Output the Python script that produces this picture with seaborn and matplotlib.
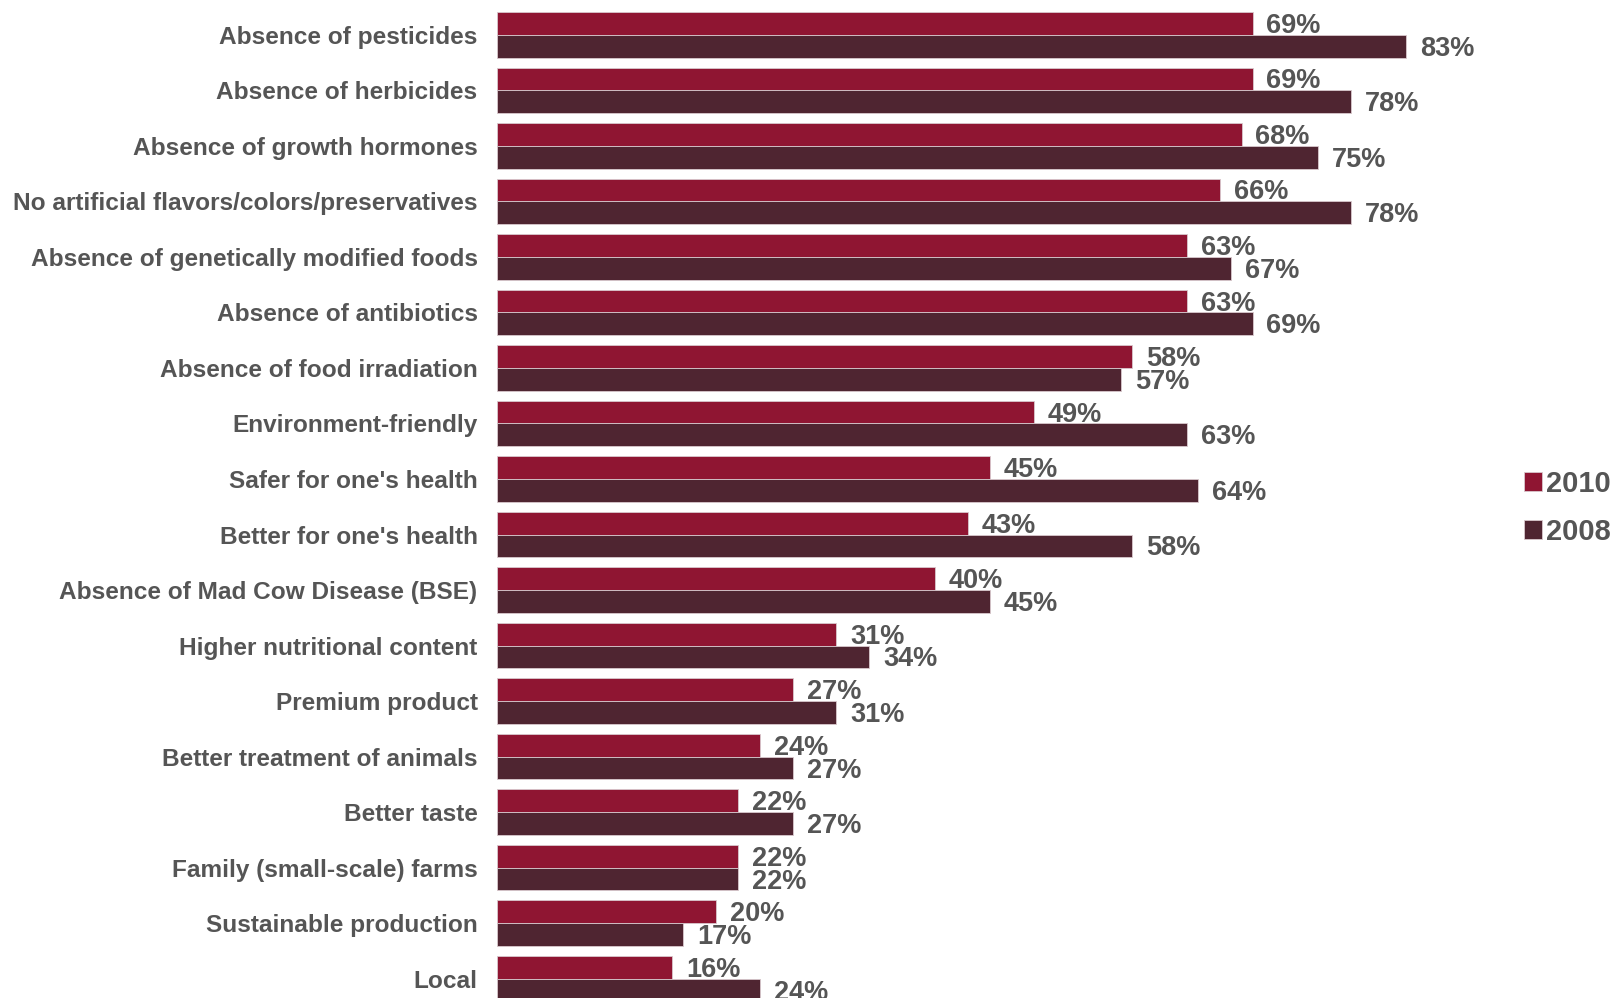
import matplotlib
matplotlib.use("Agg")
import matplotlib.pyplot as plt
import seaborn as sns
import pandas as pd

categories = [
    "Absence of pesticides",
    "Absence of herbicides",
    "Absence of growth hormones",
    "No artificial flavors/colors/preservatives",
    "Absence of genetically modified foods",
    "Absence of antibiotics",
    "Absence of food irradiation",
    "Environment-friendly",
    "Safer for one's health",
    "Better for one's health",
    "Absence of Mad Cow Disease (BSE)",
    "Higher nutritional content",
    "Premium product",
    "Better treatment of animals",
    "Better taste",
    "Family (small-scale) farms",
    "Sustainable production",
    "Local",
]
values_2010 = [69, 69, 68, 66, 63, 63, 58, 49, 45, 43, 40, 31, 27, 24, 22, 22, 20, 16]
values_2008 = [83, 78, 75, 78, 67, 69, 57, 63, 64, 58, 45, 34, 31, 27, 27, 22, 17, 24]
years = ["2010", "2008"]
colors = {"2010": "#8F1532", "2008": "#4F2531"}
text_color = "#555555"

df = pd.DataFrame({
    "attribute": categories * 2,
    "year": [years[0]] * len(categories) + [years[1]] * len(categories),
    "share": values_2010 + values_2008,
})

sns.set_style("white")
plt.rcParams["font.family"] = ["Liberation Sans", "DejaVu Sans"]
plt.rcParams["font.weight"] = "bold"

W, H = 1612, 998
fig = plt.figure(figsize=(W / 100, H / 100), dpi=100)
left_px = 497
ax = fig.add_axes([left_px / W, 0, (W - left_px) / W, 1])

sns.barplot(
    data=df, y="attribute", x="share", hue="year",
    order=categories, hue_order=years, palette=colors, saturation=1,
    orient="h", width=0.82, edgecolor="#d9c8cd", linewidth=0.6,
    ax=ax,
)

px_per_pct = 10.95
ax.set_xlim(0, (W - left_px) / px_per_pct)
ax.set_ylim(17.347, -0.626)

# value labels sit just right of each bar, nudged slightly downward
for cont, vals in zip(ax.containers, [values_2010, values_2008]):
    texts = ax.bar_label(cont, labels=[f"{v}%" for v in vals], padding=10,
                         fontsize=19.5, fontweight="bold", color=text_color)
    for t in texts:
        t.xyann = (10, -1.8)

ax.set_xlabel("")
ax.set_ylabel("")
ax.set_xticks([])
ax.tick_params(axis="y", length=0, pad=14, labelsize=17.6, labelcolor=text_color)
for lab in ax.get_yticklabels():
    lab.set_fontweight("bold")
for s in ax.spines.values():
    s.set_visible(False)

handles, labels = ax.get_legend_handles_labels()
ax.legend(
    handles, labels, loc="center left",
    bbox_to_anchor=(1524 / W, 1 - 508 / H), bbox_transform=fig.transFigure,
    frameon=False, borderpad=0, borderaxespad=0,
    handlelength=0.62, handleheight=0.62, handletextpad=0.15,
    labelspacing=0.7, prop={"size": 21, "weight": "bold"}, labelcolor=text_color,
)

fig.savefig("out.png", dpi=100)
